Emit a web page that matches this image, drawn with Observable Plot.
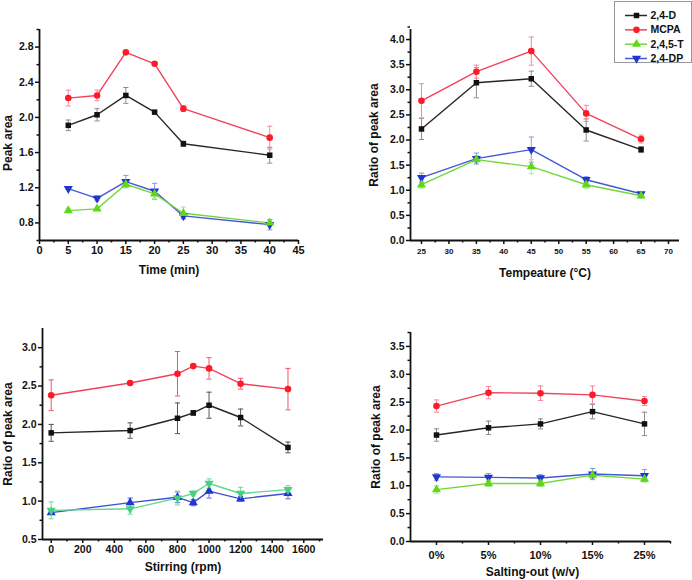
<!DOCTYPE html>
<html><head><meta charset="utf-8">
<script src="https://cdn.jsdelivr.net/npm/d3@7"></script>
<script src="https://cdn.jsdelivr.net/npm/@observablehq/plot@0.6"></script>
<style>
body{margin:0;background:#fff;}
#root{position:relative;width:692px;height:580px;font-family:"Liberation Sans",Arial,sans-serif;overflow:hidden;}
.panel{position:absolute;}
#legend{position:absolute;left:614px;top:1px;width:76px;height:60px;border:1px solid #999;background:#fff;}
</style></head><body><div id="root"></div>
<script>
// ---------- series ----------
const SERIES = ["2,4-D", "MCPA", "2,4,5-T", "2,4-DP"];

// ---------- panel 1 : Time ----------
const timeX = [5, 10, 15, 20, 25, 40];
const time_24D = [1.91, 2.03, 2.25, 2.06, 1.70, 1.57];
const time_24D_err = [0.06, 0.07, 0.09, 0.01, 0.03, 0.09];
const time_MCPA = [2.22, 2.25, 2.74, 2.61, 2.10, 1.77];
const time_MCPA_err = [0.09, 0.06, 0.02, 0.01, 0.03, 0.13];
const time_245T = [0.94, 0.96, 1.24, 1.13, 0.91, 0.80];
const time_245T_err = [0.02, 0.02, 0.03, 0.05, 0.07, 0.03];
const time_24DP = [1.19, 1.08, 1.27, 1.16, 0.88, 0.78];
const time_24DP_err = [0.01, 0.03, 0.07, 0.09, 0.03, 0.06];
const timeXTicks = [0, 5, 10, 15, 20, 25, 30, 35, 40, 45];
const timeYTicks = [0.8, 1.2, 1.6, 2.0, 2.4, 2.8];

// ---------- panel 2 : Temperature ----------
const tempX = [25, 35, 45, 55, 65];
const temp_24D = [2.22, 3.14, 3.22, 2.20, 1.81];
const temp_24D_err = [0.21, 0.30, 0.15, 0.22, 0.06];
const temp_MCPA = [2.78, 3.36, 3.77, 2.53, 2.02];
const temp_MCPA_err = [0.34, 0.13, 0.28, 0.16, 0.08];
const temp_245T = [1.11, 1.61, 1.47, 1.11, 0.89];
const temp_245T_err = [0.07, 0.08, 0.14, 0.07, 0.02];
const temp_24DP = [1.25, 1.63, 1.81, 1.21, 0.93];
const temp_24DP_err = [0.09, 0.11, 0.25, 0.06, 0.03];
const tempXTicks = [25, 30, 35, 40, 45, 50, 55, 60, 65, 70];
const tempYTicks = [0, 0.5, 1.0, 1.5, 2.0, 2.5, 3.0, 3.5, 4.0];

// ---------- panel 3 : Stirring ----------
const stirX = [0, 500, 800, 900, 1000, 1200, 1500];
const stir_24D = [1.89, 1.92, 2.08, 2.15, 2.25, 2.09, 1.70];
const stir_24D_err = [0.11, 0.10, 0.20, 0.03, 0.17, 0.11, 0.07];
const stir_MCPA = [2.38, 2.54, 2.66, 2.76, 2.73, 2.53, 2.46];
const stir_MCPA_err = [0.20, 0.01, 0.29, 0.02, 0.14, 0.07, 0.27];
const stir_245T = [0.88, 0.90, 1.04, 1.10, 1.23, 1.10, 1.15];
const stir_245T_err = [0.11, 0.07, 0.09, 0.03, 0.06, 0.08, 0.05];
const stir_24DP = [0.85, 0.98, 1.05, 0.98, 1.13, 1.03, 1.10];
const stir_24DP_err = [0.02, 0.06, 0.07, 0.04, 0.09, 0.03, 0.07];
const stirXTicks = [0, 200, 400, 600, 800, 1000, 1200, 1400, 1600];
const stirYTicks = [0.5, 1.0, 1.5, 2.0, 2.5, 3.0];

// ---------- panel 4 : Salting-out ----------
const saltLabels = ["0%", "5%", "10%", "15%", "25%"];
const salt_24D = [1.91, 2.04, 2.11, 2.33, 2.11];
const salt_24D_err = [0.11, 0.12, 0.09, 0.13, 0.21];
const salt_MCPA = [2.43, 2.67, 2.66, 2.63, 2.52];
const salt_MCPA_err = [0.11, 0.11, 0.13, 0.16, 0.08];
const salt_245T = [0.93, 1.04, 1.04, 1.19, 1.12];
const salt_245T_err = [0.07, 0.05, 0.05, 0.06, 0.05];
const salt_24DP = [1.16, 1.15, 1.14, 1.21, 1.18];
const salt_24DP_err = [0.06, 0.07, 0.06, 0.10, 0.11];
const saltYTicks = [0, 0.5, 1.0, 1.5, 2.0, 2.5, 3.0, 3.5];

// ---------- styling ----------
const sqrt3 = Math.sqrt(3);
const triDown = {draw(ctx, size) {
  const y = -Math.sqrt(size / (sqrt3 * 3));
  ctx.moveTo(0, -y * 2); ctx.lineTo(-sqrt3 * y, y); ctx.lineTo(sqrt3 * y, y); ctx.closePath();
}};
const cap = {draw(ctx) { ctx.moveTo(-2.6, 0); ctx.lineTo(2.6, 0); }};

const baseStyle = {
  lineColor: ["#262626", "#f2415b", "#72d83a", "#4657d8"],
  markColor: ["#111111", "#ff1a2a", "#5fd81a", "#2236cf"],
  errColor:  ["#8c8c8c", "#f3899a", "#a9e98a", "#8d98e8"],
  symbol:    ["square", "circle", "triangle", triDown]
};
const stirStyle = {
  lineColor: ["#262626", "#f2415b", "#5fd98f", "#3e4fd6"],
  markColor: ["#111111", "#ff1a2a", "#47d07f", "#2236cf"],
  errColor:  ["#555555", "#f0566e", "#6fdc9c", "#5a67dc"],
  symbol:    ["square", "circle", triDown, "triangle"]
};
const symR = sym => sym === "circle" ? 3.3 : (sym === "square" ? 3.1 : 3.4);

const halfSteps = (ticks, step) => ticks.map(t => t + step / 2);

function panel(o) {
  const st = o.style;
  const rows = SERIES.map((s, k) => o.xs.map((x, i) => ({s, x, y: o.vals[k][i], e: o.errs[k][i]})));
  const marks = [];
  // axis lines
  marks.push(Plot.ruleY([o.yDomain[0]], {stroke: "#111", strokeWidth: 1.8}));
  marks.push(Plot.ruleX([o.xDomain[0]], {stroke: "#111", strokeWidth: 1.8}));
  // axes
  marks.push(Plot.axisX({ticks: o.xTicks, tickSize: 4, tickPadding: o.xPad ?? 2, tickFormat: o.xFormat,
    fontSize: o.xFont ?? 11, fontWeight: "bold", strokeWidth: 1.5, label: null}));
  marks.push(Plot.axisX({ticks: o.xMinor, tickSize: 2.5, tickFormat: () => "", strokeWidth: 1.5, label: null}));
  marks.push(Plot.axisY({ticks: o.yTicks, tickSize: 4, tickPadding: 2, tickFormat: d3.format(".1f"),
    fontSize: 10.5, fontWeight: "bold", strokeWidth: 1.5, label: null}));
  marks.push(Plot.axisY({ticks: o.yMinor, tickSize: 2.5, tickFormat: () => "", strokeWidth: 1.5, label: null}));
  // axis titles
  marks.push(Plot.text([o.xLabel], {text: d => d, frameAnchor: "bottom", dy: o.xLabelDy, dx: o.xLabelDx ?? 0,
    textAnchor: "middle", lineAnchor: "middle", fontSize: 12, fontWeight: "bold", fill: "#111"}));
  marks.push(Plot.text([o.yLabel], {text: d => d, frameAnchor: "left", rotate: -90, dx: o.yLabelDx, dy: o.yLabelDy ?? 0,
    textAnchor: "middle", lineAnchor: "middle", fontSize: 12, fontWeight: "bold", fill: "#111"}));
  // data
  const order = o.order ?? [3, 2, 0, 1];
  for (const k of order) {
    const r = rows[k];
    marks.push(Plot.ruleX(r, {x: "x", y1: d => d.y - d.e, y2: d => d.y + d.e, stroke: st.errColor[k], strokeWidth: 1}));
    marks.push(Plot.dot(r, {x: "x", y: d => d.y - d.e, symbol: cap, fill: "none", stroke: st.errColor[k], strokeWidth: 1}));
    marks.push(Plot.dot(r, {x: "x", y: d => d.y + d.e, symbol: cap, fill: "none", stroke: st.errColor[k], strokeWidth: 1}));
  }
  for (const k of order) {
    marks.push(Plot.line(rows[k], {x: "x", y: "y", stroke: st.lineColor[k], strokeWidth: 1.4}));
  }
  for (const k of order) {
    const sym = st.symbol[k];
    marks.push(Plot.dot(rows[k], {x: "x", y: "y", symbol: sym, fill: st.markColor[k], stroke: "none", r: symR(sym)}));
  }
  const chart = Plot.plot({
    width: 346, height: 290,
    marginLeft: o.mL, marginRight: o.mR, marginTop: o.mT, marginBottom: o.mB,
    x: {domain: o.xDomain},
    y: {domain: o.yDomain},
    style: {fontFamily: "'Liberation Sans', Arial, sans-serif", background: "transparent", color: "#111", overflow: "visible"},
    marks
  });
  const div = document.createElement("div");
  div.className = "panel";
  div.style.left = o.left + "px";
  div.style.top = o.top + "px";
  div.appendChild(chart);
  document.getElementById("root").appendChild(div);
}

// panel 1
panel({
  left: 0, top: 0, mL: 39, mR: 48, mT: 29, mB: 50,
  xDomain: [0, 45], yDomain: [0.6, 3.0],
  xTicks: timeXTicks, xMinor: halfSteps(timeXTicks.slice(0, -1), 5),
  yTicks: timeYTicks, yMinor: [0.6, ...halfSteps(timeYTicks, 0.4)],
  xFormat: d3.format("d"),
  xLabel: "Time (min)", xLabelDy: 30, yLabel: "Peak area", yLabelDx: -31, yLabelDy: 8,
  xs: timeX, vals: [time_24D, time_MCPA, time_245T, time_24DP],
  errs: [time_24D_err, time_MCPA_err, time_245T_err, time_24DP_err],
  style: baseStyle
});

// panel 2
panel({
  left: 346, top: 0, mL: 64, mR: 13, mT: 29, mB: 50,
  xDomain: [23, 72], yDomain: [0, 4.2],
  xTicks: tempXTicks, xMinor: halfSteps(tempXTicks.slice(0, -1), 5),
  yTicks: tempYTicks, yMinor: halfSteps(tempYTicks, 0.5),
  xFormat: d3.format("d"), xFont: 8, xPad: 4,
  xLabel: "Tempeature (°C)", xLabelDy: 33, yLabel: "Ratio of peak area", yLabelDx: -36,
  xs: tempX, vals: [temp_24D, temp_MCPA, temp_245T, temp_24DP],
  errs: [temp_24D_err, temp_MCPA_err, temp_245T_err, temp_24DP_err],
  style: baseStyle
});

// panel 3
panel({
  left: 0, top: 290, mL: 42, mR: 23, mT: 38, mB: 41,
  xDomain: [-55, 1725], yDomain: [0.5, 3.25],
  xTicks: stirXTicks, xMinor: halfSteps(stirXTicks, 200),
  yTicks: stirYTicks, yMinor: halfSteps(stirYTicks.slice(0, -1), 0.5),
  xFormat: d3.format("d"), xFont: 10.5,
  xLabel: "Stirring (rpm)", xLabelDy: 28, yLabel: "Ratio of peak area", yLabelDx: -34,
  xs: stirX, vals: [stir_24D, stir_MCPA, stir_245T, stir_24DP],
  errs: [stir_24D_err, stir_MCPA_err, stir_245T_err, stir_24DP_err],
  style: stirStyle
});

// panel 4
const saltIdx = saltLabels.map((_, i) => i);
panel({
  left: 346, top: 290, mL: 64, mR: 22, mT: 42, mB: 39,
  xDomain: [-0.5, 4.5], yDomain: [0, 3.75],
  xTicks: saltIdx, xMinor: halfSteps(saltIdx, 1),
  yTicks: saltYTicks, yMinor: halfSteps(saltYTicks, 0.5),
  xFormat: i => saltLabels[i], xPad: 6,
  xLabel: "Salting-out (w/v)", xLabelDy: 31, xLabelDx: -8, yLabel: "Ratio of peak area", yLabelDx: -34,
  xs: saltIdx, vals: [salt_24D, salt_MCPA, salt_245T, salt_24DP],
  errs: [salt_24D_err, salt_MCPA_err, salt_245T_err, salt_24DP_err],
  style: baseStyle
});

// legend
const legRows = SERIES.map((s, k) => ({s, k}));
const leg = Plot.plot({
  width: 76, height: 60, margin: 0,
  x: {domain: [0, 76], range: [0, 76], axis: null},
  y: {domain: [0, 3], range: [13, 56], axis: null},
  style: {fontFamily: "'Liberation Sans', Arial, sans-serif", background: "transparent", overflow: "visible"},
  marks: [
    ...legRows.map(d => Plot.ruleY([d.k], {x1: 10, x2: 32, stroke: baseStyle.lineColor[d.k], strokeWidth: 1.5})),
    ...legRows.map(d => Plot.dot([d.k], {x: 21, y: v => v, symbol: baseStyle.symbol[d.k],
      fill: baseStyle.markColor[d.k], r: symR(baseStyle.symbol[d.k])})),
    Plot.text(legRows, {x: 35, y: "k", text: "s", textAnchor: "start",
      fontSize: 10.5, fontWeight: "bold", fill: "#111"})
  ]
});
const legDiv = document.createElement("div");
legDiv.id = "legend";
legDiv.appendChild(leg);
document.getElementById("root").appendChild(legDiv);
</script>
</body></html>
